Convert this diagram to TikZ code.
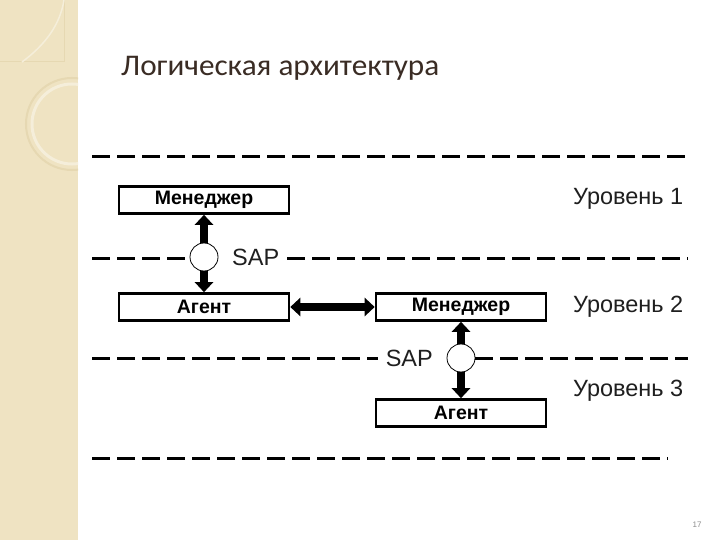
\documentclass[tikz,border=0pt]{standalone}
\usepackage{fontspec}
\setmainfont{Liberation Sans}
\newfontfamily\titlefont[FakeStretch=1.04]{Carlito}
\newfontfamily\boxfont{Liberation Sans Bold}
\usetikzlibrary{arrows.meta,positioning}
\definecolor{stripcol}{HTML}{EFE3C2}
\definecolor{stripline}{HTML}{E6D8B2}
\definecolor{titlecol}{HTML}{3A2C24}
\tikzset{
	block/.style={draw, line width=2.6pt, minimum width=170pt, minimum height=27pt,
			inner sep=0pt, font=\boxfont\fontsize{19.5}{19.5}\selectfont},
	sap/.style={draw, circle, line width=0.8pt, minimum size=28pt, inner sep=0pt, fill=white},
	fat/.style={line width=8pt, {Triangle[width=18pt,length=10pt]}-{Triangle[width=18pt,length=10pt]}},
	fatone/.style={line width=8pt, -{Triangle[width=18pt,length=10pt]}},
	level/.style={dash pattern=on 18pt off 7pt, line width=3pt},
	lbl/.style={font=\fontsize{23.5}{23.5}\selectfont, text=black!88, inner sep=0pt}
}
\begin{document}
\begin{tikzpicture}[x=1pt, y=-1pt]
			\useasboundingbox (0, 0) rectangle (720, 540);
			\fill[white] (0, 0) rectangle (720, 540);

			% left strip
			\fill[stripcol]	(0, 0) rectangle (78, 540);
			\begin{scope}
				\clip (0, 0) rectangle (78, 540);
				\draw[stripline, line width=1pt]	(0, 62) -- (64, 62) -- (64, 0);
				\draw[white!40!stripcol, line width=1.5pt]	(22, 62) .. controls (45, 45) and (60, 25) .. (64, 0);
				\draw[stripline, line width=2pt]	(72, 124) circle (46);
				\draw[white!40!stripcol, line width=3pt]	(72, 124) circle (40);
			\end{scope}

			% title
			\node[anchor=base west, inner sep=0pt, text=titlecol, font=\titlefont\fontsize{30}{30}\selectfont]
				(title) at (121, 76) {Логическая архитектура};

			% blocks
			\node[block] (mgrA) at (204, 200) {Менеджер};
			\node[block] (agtA) at (204, 307) {Агент};
			\node[block] (mgrB) at (461, 307) {Менеджер};
			\node[block] (agtB) at (461, 413) {Агент};

			% service access points
			\node[sap] (sapA) at (204, 257) {};
			\node[sap] (sapB) at (461, 358) {};
			\node[lbl, anchor=west] (sapAtxt) at (232, 257) {SAP};
			\node[lbl, anchor=east] (sapBtxt) at (433, 358) {SAP};

			% levels
			\node[lbl, anchor=west] (lvlA) at (573, 199) {Уровень 1};
			\node[lbl, anchor=west] (lvlB) at (573, 307) {Уровень 2};
			\node[lbl, anchor=west] (lvlC) at (573, 391) {Уровень 3};

			\draw[level]	(92, 157) -- (688, 157);
			\draw[level]	(92, 258) -- (sapA.west |- 0, 258);
			\draw[level]	([xshift=8pt]sapAtxt.east |- 0, 258) -- (688, 258);
			\draw[level]	(92, 358) -- ([xshift=-8pt]sapBtxt.west |- 0, 358);
			\draw[level]	(sapB.east |- 0, 358) -- (688, 358);
			\draw[level]	(92, 458) -- (668, 458);

			% connectors
			\draw[fatone]	(sapA.north) -- (mgrA.south);
			\draw[fatone]	(sapA.south) -- (agtA.north);
			\draw[fat]	(agtA.east) -- (mgrB.west);
			\draw[fatone]	(sapB.north) -- (mgrB.south);
			\draw[fatone]	(sapB.south) -- (agtB.north);

			\node[text=black!45, font=\fontsize{8}{8}\selectfont] (page) at (697, 525) {17};
		\end{tikzpicture}
\end{document}
